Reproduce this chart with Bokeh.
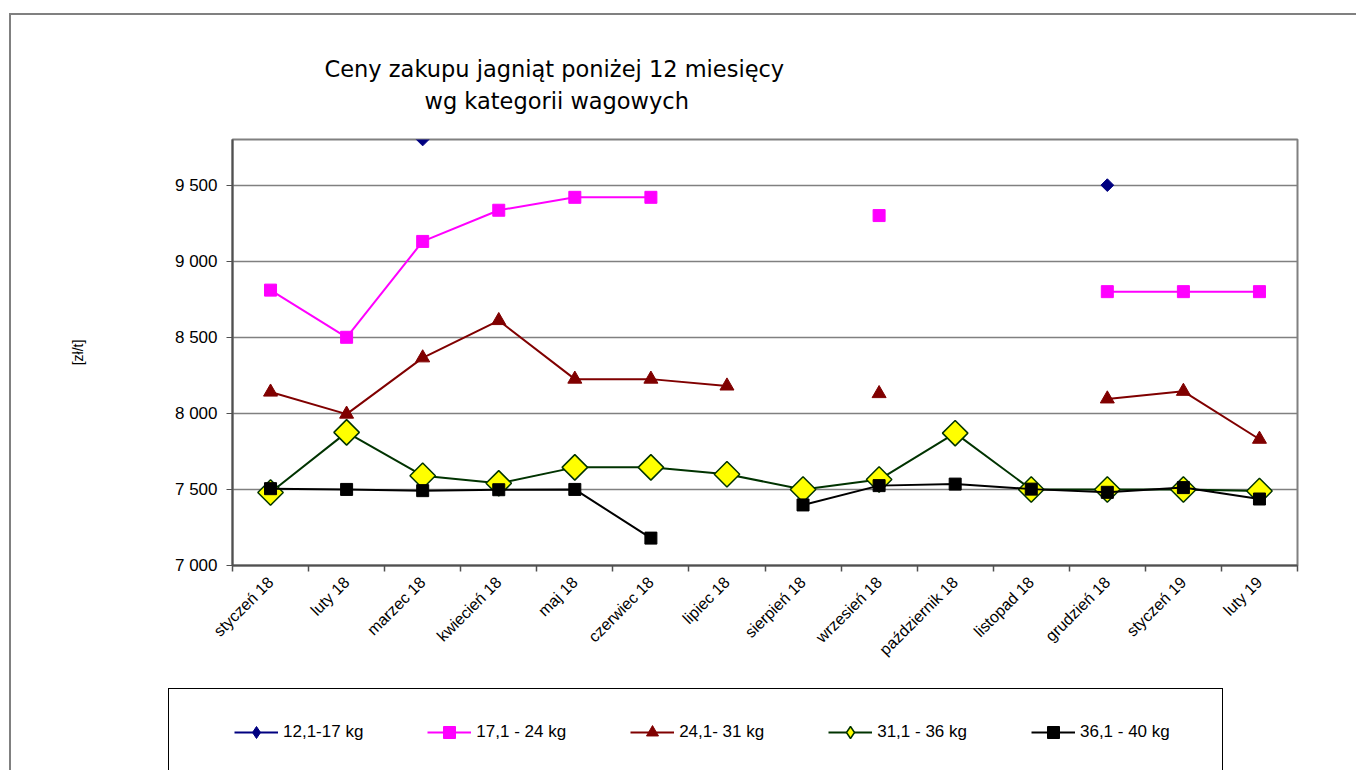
import math
from bokeh.plotting import figure
from bokeh.layouts import column
from bokeh.models import Range1d, FixedTicker, Legend, LegendItem, Title
from bokeh.embed import file_html
from bokeh.resources import INLINE

nan = float("nan")

months = ["styczeń 18", "luty 18", "marzec 18", "kwiecień 18", "maj 18", "czerwiec 18",
          "lipiec 18", "sierpień 18", "wrzesień 18", "październik 18", "listopad 18",
          "grudzień 18", "styczeń 19", "luty 19"]

s_12_17 = [nan, nan, 9800, nan, nan, nan, nan, nan, nan, nan, nan, 9500, nan, nan]
s_17_24 = [8810, 8500, 9130, 9335, 9420, 9420, nan, nan, 9300, nan, nan, 8800, 8800, 8800]
s_24_31 = [8140, 7995, 8365, 8610, 8225, 8225, 8180, nan, 8130, nan, nan, 8095, 8145, 7830]
s_31_36 = [7480, 7875, 7590, 7540, 7645, 7645, 7600, 7500, 7565, 7870, 7500, 7500, 7500, 7490]
s_36_40 = [7505, 7500, 7492, 7498, 7500, 7180, nan, 7398, 7525, 7535, 7502, 7481, 7512, 7437]

series_names = ["12,1-17 kg", "17,1 - 24 kg", "24,1- 31 kg", "31,1 - 36 kg", "36,1 - 40 kg"]

y_ticks = [7000, 7500, 8000, 8500, 9000, 9500]
y_tick_labels = ["7 000", "7 500", "8 000", "8 500", "9 000", "9 500"]

title_lines = ["Ceny zakupu jagniąt poniżej 12 miesięcy", "wg kategorii wagowych"]
y_label = "[zł/t]"

x = list(range(len(months)))

W, H1, H2 = 1356, 680, 90
p = figure(width=W, height=H1, title=None,
           x_range=Range1d(-0.5, len(months) - 0.5), y_range=Range1d(7000, 9800),
           output_backend="svg", toolbar_location=None,
           min_border_left=232, min_border_right=W - 1297, min_border_top=139,
           min_border_bottom=H1 - 565)
p.background_fill_color = "white"
p.border_fill_color = None
p.outline_line_color = "#808080"
p.outline_line_width = 2

# grid
p.xgrid.visible = False
p.ygrid.ticker = FixedTicker(ticks=y_ticks)
p.ygrid.grid_line_color = "#808080"
p.ygrid.grid_line_width = 1.5

# y axis
ya = p.yaxis[0]
ya.ticker = FixedTicker(ticks=y_ticks)
ya.major_label_overrides = {t: l for t, l in zip(y_ticks, y_tick_labels)}
ya.major_label_text_font = "Liberation Sans"
ya.major_label_text_font_size = "17px"
ya.major_label_text_color = "black"
ya.major_tick_in = 0
ya.major_tick_out = 6
ya.minor_tick_line_color = None
ya.major_label_standoff = 9
ya.axis_line_color = "#505050"
ya.axis_line_width = 2
ya.major_tick_line_color = "#505050"
ya.axis_label = y_label
ya.axis_label_text_font = "Liberation Sans"
ya.axis_label_text_font_size = "14px"
ya.axis_label_text_font_style = "normal"
ya.axis_label_text_color = "black"
ya.axis_label_standoff = 86

# x axis
xa = p.xaxis[0]
xa.ticker = FixedTicker(ticks=x, minor_ticks=[i - 0.5 for i in range(len(months) + 1)])
xa.major_label_overrides = {i: m for i, m in enumerate(months)}
xa.major_label_orientation = math.pi / 4
xa.major_label_text_font = "Liberation Sans"
xa.major_label_text_font_size = "16px"
xa.major_label_text_color = "black"
xa.major_tick_line_color = None
xa.major_tick_in = 0
xa.major_tick_out = 6
xa.minor_tick_in = 0
xa.minor_tick_out = 6
xa.minor_tick_line_color = "#505050"
xa.minor_tick_line_width = 1.5
xa.axis_line_color = "#505050"
xa.axis_line_width = 2
xa.major_label_standoff = 8

# series
styles = [
    dict(color="#000080", marker="square", angle=math.pi / 4, size=9, fill="#000080", lw=1),
    dict(color="#FF00FF", marker="square", angle=0, size=12, fill="#FF00FF", lw=1),
    dict(color="#800000", marker="triangle", angle=0, size=14, fill="#800000", lw=1),
    dict(color="#003300", marker="square", angle=math.pi / 4, size=18, fill="#FFFF00", lw=1.5),
    dict(color="black", marker="square", angle=0, size=12, fill="black", lw=1),
]
legend_markers = ["diamond", "square", "triangle", "diamond", "square"]
series = [s_12_17, s_17_24, s_24_31, s_31_36, s_36_40]

for vals, st in zip(series, styles):
    p.line(x, vals, line_color=st["color"], line_width=2)
    p.scatter(x, vals, marker=st["marker"], angle=st["angle"], size=st["size"],
              fill_color=st["fill"], line_color=st["color"], line_width=st["lw"])

# title (two lines)
p.add_layout(Title(text=title_lines[1], align="left", offset=192, standoff=52,
                   text_font="DejaVu Sans", text_font_size="22.5px",
                   text_font_style="normal", text_color="black"), "above")
p.add_layout(Title(text=title_lines[0], align="left", offset=92, standoff=-44,
                   text_font="DejaVu Sans", text_font_size="22.5px",
                   text_font_style="normal", text_color="black"), "above")

# legend strip below the chart (legend keys styled like the series)
q = figure(width=W, height=H2, x_range=Range1d(0, 1), y_range=Range1d(0, 1),
           x_axis_type=None, y_axis_type=None, output_backend="svg",
           toolbar_location=None, min_border=0, title=None)
q.outline_line_color = None
q.background_fill_color = None
q.border_fill_color = None
items = []
for name, st, mk in zip(series_names, styles, legend_markers):
    rl = q.line([nan], [nan], line_color=st["color"], line_width=2)
    rs = q.scatter([nan], [nan], marker=mk, fill_color=st["fill"], line_color=st["color"],
                   line_width=st["lw"])
    items.append(LegendItem(label=name, renderers=[rl, rs]))
legend = Legend(items=items, location=(2, 23), orientation="horizontal", padding=0,
                spacing=64, margin=0, glyph_width=44, glyph_height=30, label_height=30,
                label_standoff=5, border_line_color=None, background_fill_alpha=0,
                label_text_font="Liberation Sans", label_text_font_size="17px",
                label_text_color="black")
q.add_layout(legend)

layout = column(p, q, spacing=0)
# chart-area frame (left/top edges) and legend box, drawn as CSS background lines
layout.styles = {"background": (
    "linear-gradient(#808080,#808080) 9px 13px / 2px 900px no-repeat, "
    "linear-gradient(#808080,#808080) 9px 13px / 1500px 2px no-repeat, "
    "linear-gradient(#000,#000) 168px 688px / 1px 200px no-repeat, "
    "linear-gradient(#000,#000) 1222px 688px / 1px 200px no-repeat, "
    "linear-gradient(#000,#000) 168px 688px / 1055px 1px no-repeat, white")}

open("out.html", "w").write(file_html(layout, INLINE))
